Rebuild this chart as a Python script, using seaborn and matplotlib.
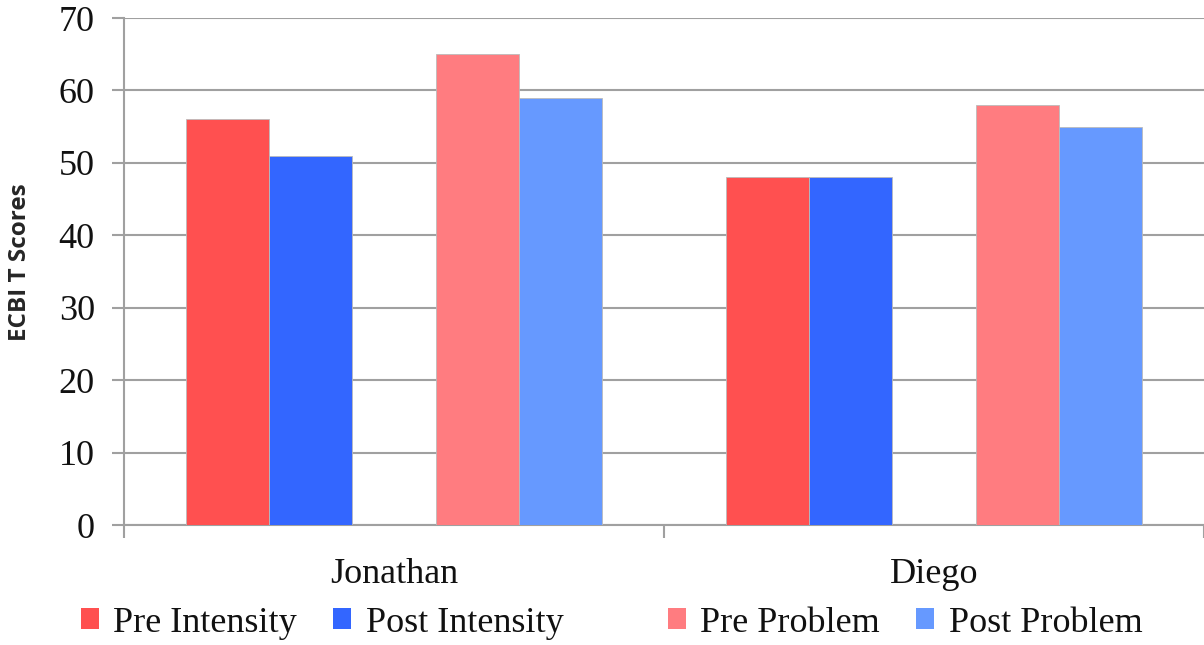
import matplotlib
matplotlib.use("Agg")
import matplotlib.pyplot as plt
from matplotlib.patches import Patch
from matplotlib.ticker import FixedLocator
import seaborn as sns
import pandas as pd

# Chart data
children = ["Jonathan", "Diego"]
series = ["Pre Intensity", "Post Intensity", " ", "Pre Problem", "Post Problem"]
pre_intensity = [56, 48]
post_intensity = [51, 48]
spacer = [0, 0]
pre_problem = [65, 58]
post_problem = [59, 55]
y_ticks = [0, 10, 20, 30, 40, 50, 60, 70]

colors = ["#FF5050", "#3366FF", "#FFFFFF", "#FF7C80", "#6699FF"]

rows = []
for name, vals in zip(series, [pre_intensity, post_intensity, spacer, pre_problem, post_problem]):
    for child, v in zip(children, vals):
        rows.append({"child": child, "series": name, "score": v})
df = pd.DataFrame(rows)

sns.set_theme(style="white")
serif = ["Liberation Serif", "DejaVu Serif"]
plt.rcParams["font.family"] = serif

fig = plt.figure(figsize=(12.04, 6.45), dpi=100)
ax = fig.add_axes([0.103, 0.186, 0.897, 0.786])

sns.barplot(data=df, x="child", y="score", hue="series", hue_order=series,
            order=children, palette=colors, saturation=1, width=5 / 6.5, gap=0,
            errorbar=None, legend=False, ax=ax, zorder=3)
for patch, col in zip(ax.patches, [c for c in colors for _ in children]):
    if col == "#FFFFFF":
        patch.set_visible(False)
    else:
        patch.set_edgecolor("#BBBBBB")
        patch.set_linewidth(0.6)

ax.set_ylim(0, 70)
ax.set_xlim(-0.5, 1.5)
ax.set_yticks(y_ticks)
ax.set_yticklabels([str(t) for t in y_ticks])
ax.yaxis.grid(True, color="#A0A0A0", linewidth=1.5, zorder=0)
ax.set_axisbelow(True)

for s in ["top", "right"]:
    ax.spines[s].set_visible(False)
for s in ["left", "bottom"]:
    ax.spines[s].set_color("#A0A0A0")
    ax.spines[s].set_linewidth(1.5)

ax.tick_params(axis="y", which="major", length=9, width=1.5, color="#A0A0A0",
               direction="out", left=True, pad=12, labelsize=26, labelcolor="#111111")
ax.tick_params(axis="x", which="major", length=0, pad=24, labelsize=26, labelcolor="#111111")
ax.xaxis.set_minor_locator(FixedLocator([-0.5, 0.5, 1.5]))
ax.tick_params(axis="x", which="minor", length=9, width=1.5, color="#A0A0A0",
               direction="out", bottom=True)

ax.set_xlabel("")
ax.set_ylabel("ECBI T Scores", family=["Open Sans", "DejaVu Sans"], fontweight="bold",
              fontsize=17.5)
ax.yaxis.set_label_coords(-0.085, 0.519)

handles = [Patch(facecolor=c, edgecolor="none") if c != "#FFFFFF"
           else Patch(facecolor="none", edgecolor="none") for c in colors]
labels = ["Pre Intensity", "Post Intensity", "", "Pre Problem", "Post Problem"]
fig.legend(handles, labels, loc="center", bbox_to_anchor=(0.508, 0.034), ncol=5,
           frameon=False, fontsize=26, handlelength=0.5, handleheight=0.5,
           handletextpad=0.4, columnspacing=1.0, labelcolor="#111111",
           borderpad=0, borderaxespad=0)

fig.savefig("out.png", dpi=100)
